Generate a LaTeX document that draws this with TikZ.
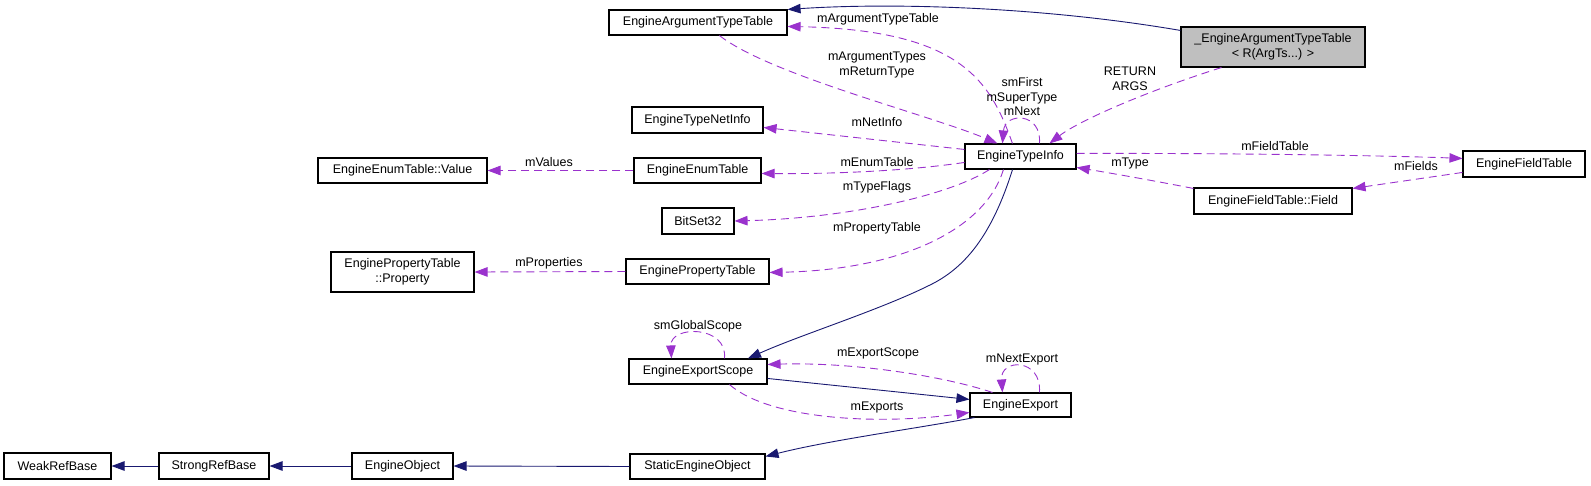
\documentclass[tikz,border=0pt]{standalone}
\usepackage{fontspec}
\setmainfont{Liberation Sans}
\usetikzlibrary{arrows.meta,calc}
\definecolor{db}{HTML}{191970}
\definecolor{pu}{HTML}{9A32CD}
\definecolor{gr}{HTML}{BFBFBF}
\begin{document}
\begin{tikzpicture}[x=1pt,y=-1pt,
  every node/.style={font=\fontsize{12.5}{14.5}\selectfont},
  box/.style={draw=black,line width=1.1pt,fill=white,inner sep=0pt,minimum height=25pt,align=center},
  inh/.style={draw=db,line width=0.9pt,-{Triangle[length=13pt,width=9.5pt]}},
  use/.style={draw=pu,line width=0.9pt,dash pattern=on 8pt off 5pt,-{Triangle[length=13pt,width=9.5pt]}},
  lbl/.style={inner sep=0pt,align=center}]
\useasboundingbox (0,0) rectangle (1591,485);
% nodes
\node[box,minimum width=178pt] (ATT) at (698,22.5) {EngineArgumentTypeTable};
\node[box,minimum width=184pt,minimum height=40pt,fill=gr] (EATT) at (1273,47) {\_EngineArgumentTypeTable\\{<} R(ArgTs...) {>}};
\node[box,minimum width=131pt,minimum height=26pt] (NetInfo) at (697.5,120) {EngineTypeNetInfo};
\node[box,minimum width=169pt] (EnumValue) at (402.5,170.5) {EngineEnumTable::Value};
\node[box,minimum width=127pt] (EnumTable) at (697.5,170.5) {EngineEnumTable};
\node[box,minimum width=72pt,minimum height=26pt] (BitSet) at (698,221) {BitSet32};
\node[box,minimum width=143pt,minimum height=40pt] (PropProp) at (402.5,272) {EnginePropertyTable\\::Property};
\node[box,minimum width=143pt] (PropTable) at (697.5,271.5) {EnginePropertyTable};
\node[box,minimum width=111pt] (TypeInfo) at (1020.5,156.5) {EngineTypeInfo};
\node[box,minimum width=122pt,minimum height=26pt] (FieldTable) at (1524,164) {EngineFieldTable};
\node[box,minimum width=158pt,minimum height=26pt] (Field) at (1273,201) {EngineFieldTable::Field};
\node[box,minimum width=138pt] (ExportScope) at (698,371.5) {EngineExportScope};
\node[box,minimum width=101pt,minimum height=24pt] (Export) at (1020.5,405) {EngineExport};
\node[box,minimum width=135pt] (StaticEO) at (697.5,466.5) {StaticEngineObject};
\node[box,minimum width=101pt,minimum height=26pt] (EObj) at (402.5,466) {EngineObject};
\node[box,minimum width=110pt,minimum height=26pt] (Strong) at (214,466) {StrongRefBase};
\node[box,minimum width=107pt,minimum height=26pt] (Weak) at (57.5,466) {WeakRefBase};
% inheritance edges
\draw[inh] ($(EATT.north west)+(0,4)$) .. controls (1050,8) and (900,2) .. (ATT.north east);
\draw[inh] ($(TypeInfo.south)+(-8,0)$) .. controls (992,235) and (965,268) .. (930,285) .. controls (880,310) and (800,335) .. ($(ExportScope.north)+(50,0)$);
\draw[inh] ($(ExportScope.north east)+(0,20)$) -- ($(Export.north west)+(0,7)$);
\draw[inh] ($(Export.south west)+(5,0)$) .. controls (920,428) and (830,440) .. ($(StaticEO.north east)+(0,3)$);
\draw[inh] (StaticEO.west) -- (EObj.east);
\draw[inh] (EObj.west) -- (Strong.east);
\draw[inh] (Strong.west) -- (Weak.east);
% usage edges
\draw[use] ($(TypeInfo.north west)+(48,0)$) .. controls (990,80) and (960,30) .. ($(ATT.north east)+(0,17)$);
\draw[use] ($(ATT.south west)+(111,0)$) .. controls (770,75) and (930,115) .. ($(TypeInfo.north west)+(33,0)$);
\draw[use] ($(TypeInfo.north west)+(75,0)$) .. controls (1042,112) and (1005,112) .. ($(TypeInfo.north west)+(38,0)$);
\draw[use] ($(EATT.south west)+(41,0)$) .. controls (1150,90) and (1080,120) .. ($(TypeInfo.north west)+(85,0)$);
\draw[use] ($(TypeInfo.north west)+(0,6)$) -- ($(NetInfo.north east)+(0,21)$);
\draw[use] ($(TypeInfo.north west)+(0,19)$) .. controls (900,172) and (820,174) .. ($(EnumTable.north east)+(0,16)$);
\draw[use] ($(TypeInfo.south west)+(25,0)$) .. controls (950,195) and (850,218) .. (BitSet.east);
\draw[use] ($(TypeInfo.south west)+(39,0)$) .. controls (985,230) and (900,270) .. ($(PropTable.north east)+(0,14)$);
\draw[use] (EnumTable.west) -- (EnumValue.east);
\draw[use] (PropTable.west) -- (PropProp.east);
\draw[use] ($(ExportScope.north west)+(96,0)$) .. controls (728,325) and (670,325) .. ($(ExportScope.north west)+(43,0)$);
\draw[use] ($(Export.north west)+(23,0)$) .. controls (940,375) and (850,362) .. ($(ExportScope.north east)+(0,6)$);
\draw[use] ($(ExportScope.south west)+(101,0)$) .. controls (770,420) and (880,425) .. ($(Export.north west)+(0,20)$);
\draw[use] ($(Export.north west)+(70,0)$) .. controls (1042,358) and (1000,358) .. ($(Export.north west)+(33,0)$);
\draw[use] ($(TypeInfo.north east)+(0,10)$) .. controls (1250,153) and (1400,156) .. ($(FieldTable.north west)+(0,8)$);
\draw[use] ($(Field.north west)+(0,1)$) .. controls (1150,180) and (1110,173) .. ($(TypeInfo.north east)+(0,24)$);
\draw[use] ($(FieldTable.north west)+(0,22)$) -- ($(Field.north east)+(0,1)$);
% labels
\node[lbl] (l1) at (878,19) {mArgumentTypeTable};
\node[lbl] (l2) at (877,65) {mArgumentTypes\\mReturnType};
\node[lbl] (l3) at (1022,97) {smFirst\\mSuperType\\mNext};
\node[lbl] (l4) at (1130,79) {RETURN\\ARGS};
\node[lbl] (l5) at (877,122) {mNetInfo};
\node[lbl] (l6) at (877,162) {mEnumTable};
\node[lbl] (l7) at (877,187) {mTypeFlags};
\node[lbl] (l8) at (877,228) {mPropertyTable};
\node[lbl] (l9) at (549,162) {mValues};
\node[lbl] (l10) at (549,263) {mProperties};
\node[lbl] (l11) at (1275,146) {mFieldTable};
\node[lbl] (l12) at (1130,163) {mType};
\node[lbl] (l13) at (1416,166) {mFields};
\node[lbl] (l14) at (698,326) {smGlobalScope};
\node[lbl] (l15) at (878,353) {mExportScope};
\node[lbl] (l16) at (1022,359) {mNextExport};
\node[lbl] (l17) at (877,407) {mExports};
\end{tikzpicture}
\end{document}
